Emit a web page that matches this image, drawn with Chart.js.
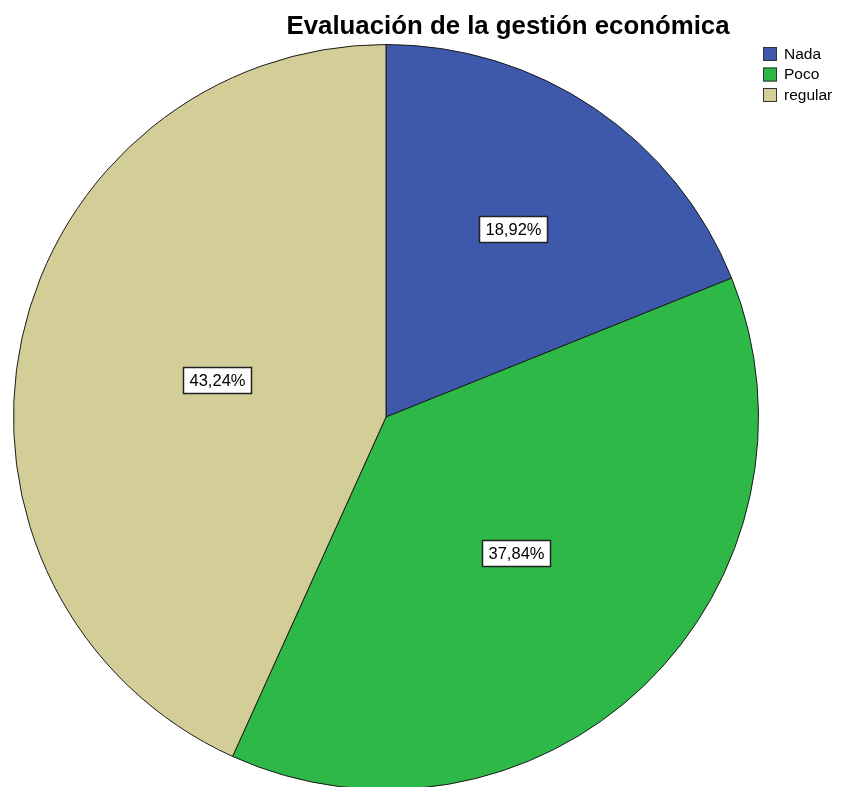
<!DOCTYPE html>
<html>
<head>
<meta charset="utf-8">
<script src="https://cdn.jsdelivr.net/npm/chart.js@4"></script>
<style>
  html, body { margin: 0; padding: 0; background: #fff; overflow: hidden; }
  canvas { display: block; }
</style>
</head>
<body>
<canvas id="graficoPie" width="842" height="792"></canvas>
<script>
// Données du graphique
const titulo = 'Evaluación de la gestión económica';
const categorias = ['Nada', 'Poco', 'regular'];
const frecuencias = [7, 14, 16];
const colores = ['#3E58AC', '#2EB848', '#D3CE97'];

// Plugin pour le titre, la légende et les étiquettes en pourcentage
const decoracion = {
    id: 'decoracion',
    afterDraw(chart) {
        const ctx = chart.ctx;
        const total = frecuencias.reduce((a, b) => a + b, 0);

        // Titre
        ctx.save();
        ctx.fillStyle = '#000';
        ctx.font = 'bold 25.8px "Liberation Sans", Arial, sans-serif';
        ctx.textAlign = 'center';
        ctx.textBaseline = 'alphabetic';
        ctx.fillText(titulo, 508, 34);

        // Légende
        ctx.font = '15.5px "Liberation Sans", Arial, sans-serif';
        ctx.textAlign = 'left';
        ctx.textBaseline = 'middle';
        categorias.forEach((cat, i) => {
            const y = 47 + i * 20.5;
            ctx.fillStyle = colores[i];
            ctx.fillRect(763, y, 14, 14);
            ctx.strokeStyle = '#333';
            ctx.lineWidth = 1;
            ctx.strokeRect(763.5, y + 0.5, 13, 13);
            ctx.fillStyle = '#000';
            ctx.fillText(cat, 784, y + 7.5);
        });

        // Étiquettes près du centre de gravité de chaque secteur
        const meta = chart.getDatasetMeta(0);
        ctx.font = '16.5px "Liberation Sans", Arial, sans-serif';
        ctx.textAlign = 'center';
        meta.data.forEach((arc, i) => {
            const p = arc.getProps(['x', 'y', 'startAngle', 'endAngle', 'outerRadius'], true);
            const theta = p.endAngle - p.startAngle;
            const mid = (p.startAngle + p.endAngle) / 2;
            const d = 0.97 * 4 * p.outerRadius * Math.sin(theta / 2) / (3 * theta);
            const cx = p.x + Math.cos(mid) * d;
            const cy = p.y + Math.sin(mid) * d;
            const texto = (frecuencias[i] / total * 100).toFixed(2).replace('.', ',') + '%';
            const w = Math.round(ctx.measureText(texto).width + 12);
            const h = 26;
            const bx = Math.round(cx - w / 2);
            const by = Math.round(cy - h / 2);
            ctx.fillStyle = '#fff';
            ctx.fillRect(bx, by, w, h);
            ctx.strokeStyle = '#222';
            ctx.lineWidth = 1.5;
            ctx.strokeRect(bx + 0.5, by + 0.5, w, h);
            ctx.fillStyle = '#000';
            ctx.fillText(texto, bx + w / 2 + 0.5, by + h / 2 + 1.5);
        });
        ctx.restore();
    }
};

const ctx = document.getElementById('graficoPie').getContext('2d');
new Chart(ctx, {
    type: 'pie',
    data: {
        labels: categorias,
        datasets: [{
            data: frecuencias,
            backgroundColor: colores,
            borderColor: '#1a1a1a',
            borderWidth: 1
        }]
    },
    options: {
        responsive: false,
        animation: false,
        layout: {
            padding: { left: 13, right: 83, top: 44, bottom: 2 }
        },
        plugins: {
            legend: { display: false },
            title: { display: false },
            tooltip: { enabled: false }
        }
    },
    plugins: [decoracion]
});
</script>
</body>
</html>
